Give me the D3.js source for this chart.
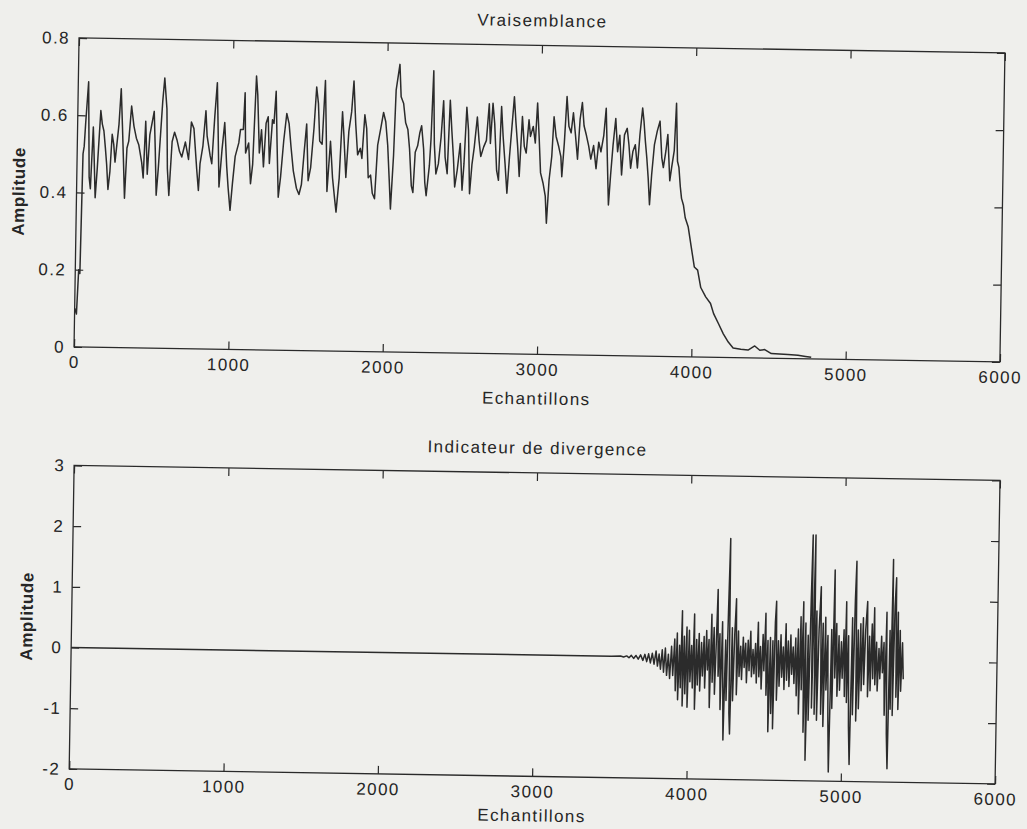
<!DOCTYPE html>
<html>
<head>
<meta charset="utf-8">
<title>Vraisemblance / Indicateur de divergence</title>
<script src="https://d3js.org/d3.v7.min.js"></script>
<style>
  body { margin: 0; background: #efefec; }
  text { font-family: "Liberation Sans", Arial, sans-serif; fill: #262626; }
</style>
</head>
<body>
<div id="chart"></div>
<script>
// values: [echantillon, amplitude]
var vraisemblance = [
  [0,0.10],[12,0.085],[22,0.20],[30,0.19],[38,0.50],[45,0.52],[52,0.58],[67,0.687],[80,0.44],[89,0.41],
  [102,0.57],[106,0.535],[121,0.387],[132,0.465],[149,0.613],[160,0.578],[171,0.56],[182,0.517],[192,0.474],[203,0.409],
  [214,0.456],[225,0.552],[236,0.526],[246,0.48],[268,0.578],[279,0.67],[290,0.578],[300,0.49],[311,0.387],[322,0.517],
  [333,0.535],[348,0.626],[365,0.574],[382,0.543],[398,0.526],[419,0.48],[430,0.44],[441,0.587],[456,0.45],[469,0.552],
  [484,0.587],[495,0.613],[506,0.509],[516,0.396],[527,0.465],[549,0.639],[560,0.70],[577,0.62],[586,0.465],[598,0.396],
  [614,0.535],[629,0.56],[646,0.539],[663,0.51],[678,0.496],[700,0.535],[722,0.49],[737,0.587],[754,0.57],[776,0.465],
  [789,0.41],[797,0.48],[814,0.526],[830,0.617],[840,0.552],[862,0.50],[873,0.48],[888,0.604],[901,0.69],[910,0.578],
  [922,0.42],[938,0.517],[953,0.587],[970,0.474],[981,0.42],[996,0.36],[1009,0.43],[1024,0.50],[1046,0.535],[1056,0.57],
  [1074,0.57],[1082,0.665],[1091,0.509],[1110,0.535],[1126,0.43],[1138,0.48],[1154,0.709],[1164,0.66],[1180,0.51],[1192,0.57],
  [1208,0.474],[1221,0.587],[1234,0.604],[1246,0.483],[1262,0.596],[1272,0.587],[1283,0.67],[1294,0.535],[1307,0.396],[1320,0.448],
  [1337,0.543],[1354,0.613],[1370,0.587],[1385,0.526],[1402,0.465],[1424,0.42],[1441,0.404],[1456,0.43],[1471,0.517],[1484,0.587],
  [1499,0.44],[1514,0.474],[1532,0.578],[1545,0.683],[1558,0.64],[1570,0.543],[1586,0.535],[1601,0.70],[1612,0.56],[1622,0.413],
  [1640,0.543],[1657,0.448],[1672,0.396],[1683,0.36],[1700,0.448],[1715,0.62],[1726,0.56],[1743,0.45],[1758,0.57],[1774,0.62],
  [1786,0.70],[1802,0.587],[1817,0.509],[1834,0.526],[1845,0.50],[1860,0.613],[1873,0.578],[1888,0.45],[1903,0.457],[1916,0.41],
  [1931,0.396],[1946,0.535],[1964,0.578],[1981,0.62],[1996,0.596],[2011,0.535],[2024,0.448],[2035,0.37],[2050,0.51],[2060,0.678],
  [2082,0.745],[2093,0.661],[2110,0.644],[2125,0.594],[2140,0.577],[2153,0.526],[2168,0.431],[2179,0.414],[2190,0.518],[2205,0.535],
  [2218,0.569],[2229,0.587],[2244,0.527],[2255,0.44],[2265,0.406],[2283,0.484],[2291,0.553],[2302,0.73],[2313,0.54],[2326,0.463],
  [2341,0.489],[2356,0.558],[2369,0.653],[2384,0.507],[2399,0.464],[2412,0.654],[2425,0.576],[2438,0.507],[2449,0.43],[2464,0.474],
  [2481,0.543],[2497,0.422],[2507,0.49],[2520,0.637],[2533,0.577],[2546,0.413],[2559,0.49],[2572,0.534],[2589,0.612],[2602,0.552],
  [2615,0.51],[2633,0.535],[2650,0.552],[2665,0.647],[2676,0.544],[2689,0.648],[2702,0.596],[2719,0.475],[2732,0.449],[2745,0.64],
  [2758,0.562],[2773,0.493],[2788,0.416],[2801,0.51],[2814,0.588],[2827,0.666],[2840,0.597],[2853,0.537],[2866,0.46],[2881,0.615],
  [2896,0.538],[2909,0.521],[2924,0.607],[2935,0.564],[2952,0.59],[2967,0.547],[2978,0.651],[2991,0.565],[3004,0.47],[3021,0.444],
  [3037,0.41],[3047,0.34],[3060,0.452],[3075,0.513],[3086,0.616],[3101,0.565],[3119,0.539],[3134,0.513],[3142,0.461],[3155,0.548],
  [3168,0.669],[3183,0.592],[3198,0.575],[3211,0.627],[3227,0.567],[3242,0.507],[3255,0.611],[3268,0.654],[3281,0.594],[3298,0.568],
  [3313,0.542],[3328,0.508],[3345,0.543],[3363,0.483],[3378,0.552],[3393,0.527],[3410,0.57],[3423,0.64],[3436,0.502],[3447,0.39],
  [3458,0.467],[3471,0.545],[3486,0.614],[3501,0.528],[3514,0.571],[3529,0.468],[3544,0.572],[3561,0.589],[3574,0.546],[3587,0.486],
  [3600,0.529],[3615,0.547],[3631,0.487],[3644,0.573],[3659,0.642],[3669,0.608],[3680,0.556],[3691,0.513],[3702,0.461],[3713,0.392],
  [3724,0.47],[3739,0.548],[3756,0.583],[3773,0.609],[3788,0.514],[3799,0.489],[3814,0.532],[3825,0.575],[3842,0.455],[3853,0.49],
  [3868,0.533],[3878,0.656],[3890,0.506],[3900,0.49],[3911,0.44],[3920,0.41],[3933,0.393],[3946,0.36],[3966,0.337],[3988,0.285],
  [4010,0.233],[4032,0.225],[4054,0.18],[4087,0.156],[4119,0.139],[4140,0.113],[4173,0.087],[4205,0.061],[4238,0.04],[4270,0.025],
  [4320,0.022],[4367,0.02],[4410,0.031],[4443,0.02],[4475,0.022],[4518,0.012],[4570,0.011],[4626,0.01],[4691,0.009],[4740,0.006],
  [4777,0.004]
];

var divergence = [
  [0,0],[3500,0],[3560,0.005],[3580,-0.01],[3600,0.01],[3615,-0.02],[3630,0.02],[3645,-0.03],[3660,0.02],[3675,-0.04],
  [3690,0.03],[3705,-0.06],[3718,0.04],[3730,-0.08],[3742,0.05],[3754,-0.1],[3766,0.06],[3778,-0.12],[3790,0.1],[3800,-0.15],
  [3810,0.05],[3820,-0.2],[3830,0.12],[3840,-0.25],[3850,0.15],[3860,-0.3],[3870,0.05],[3880,-0.35],[3890,0.18],[3900,-0.3],
  [3910,0.3],[3918,-0.55],[3926,0.4],[3934,-0.7],[3942,0.2],[3950,-0.5],[3957,0.77],[3964,-0.8],[3972,0.35],[3980,-0.6],
  [3988,0.5],[3996,-0.82],[4004,0.45],[4012,-0.4],[4020,0.2],[4028,-0.5],[4036,0.72],[4044,-0.85],[4052,0.3],[4060,-0.45],
  [4068,0.4],[4076,-0.55],[4084,0.25],[4092,-0.3],[4100,0.35],[4108,-0.5],[4116,0.45],[4124,-0.2],[4132,0.3],[4140,-0.82],
  [4148,0.72],[4156,-0.4],[4164,0.5],[4172,-0.6],[4180,0.35],[4186,1.13],[4194,-0.3],[4202,0.4],[4210,-0.85],[4218,0.6],
  [4226,-0.5],[4232,-1.35],[4240,0.3],[4248,-0.7],[4255,0.75],[4262,1.97],[4268,-0.9],[4274,-1.25],[4282,0.5],[4290,-0.7],
  [4298,0.4],[4306,0.98],[4314,-0.6],[4322,0.45],[4330,-0.3],[4338,0.2],[4346,-0.35],[4354,0.35],[4362,-0.15],[4370,0.25],
  [4378,-0.4],[4386,0.3],[4394,-0.2],[4402,0.45],[4410,-0.3],[4418,0.15],[4426,-0.25],[4434,0.25],[4442,-0.4],[4450,0.6],
  [4458,-0.3],[4466,0.2],[4474,-0.5],[4482,0.4],[4490,-0.2],[4498,0.75],[4506,-0.6],[4514,0.3],[4522,-1.2],[4530,0.35],
  [4538,-0.9],[4546,0.3],[4552,-1.15],[4560,0.6],[4566,0.95],[4574,-0.68],[4582,0.3],[4590,-0.45],[4598,0.4],[4606,-0.3],
  [4614,0.2],[4622,-0.5],[4630,0.58],[4638,-0.35],[4646,0.3],[4654,-0.45],[4662,0.4],[4670,-0.25],[4678,0.2],[4686,-0.4],
  [4694,0.35],[4702,-0.6],[4710,0.5],[4718,-0.9],[4726,0.7],[4734,-0.5],[4742,0.95],[4750,-1.2],[4758,0.6],[4766,-1.66],
  [4774,0.4],[4782,-1.0],[4790,1.0],[4796,2.05],[4802,-0.8],[4808,0.5],[4814,2.05],[4820,-0.9],[4828,0.8],[4836,-1.0],
  [4844,0.5],[4854,1.2],[4862,-0.9],[4870,0.6],[4878,-1.1],[4886,0.7],[4894,-0.5],[4902,0.4],[4910,-1.0],[4918,-1.85],
  [4926,0.5],[4934,-0.8],[4942,1.48],[4950,-0.3],[4958,0.6],[4966,-0.6],[4974,0.4],[4982,-0.5],[4990,0.3],[4998,-0.3],
  [5006,0.5],[5014,-0.6],[5020,0.96],[5028,-0.7],[5036,0.4],[5044,-1.1],[5052,-1.72],[5060,0.7],[5068,-0.9],[5076,1.0],
  [5082,1.63],[5090,-1.0],[5098,0.5],[5106,-0.8],[5114,0.6],[5122,-0.5],[5130,0.7],[5138,-0.4],[5146,0.5],[5156,0.97],
  [5164,-0.6],[5172,0.4],[5180,-0.5],[5188,0.6],[5196,-0.3],[5202,0.87],[5210,-0.4],[5218,0.3],[5226,-0.5],[5234,0.2],
  [5242,-0.3],[5250,0.4],[5258,-0.2],[5266,0.3],[5274,-0.9],[5282,0.8],[5290,-1.2],[5298,-1.78],[5304,0.5],[5312,-0.8],
  [5319,1.67],[5326,-0.9],[5334,0.9],[5341,1.37],[5348,-0.6],[5356,0.8],[5362,-0.8],[5370,0.5],[5378,-0.5],[5386,0.3],
  [5394,-0.3]
];

var xTicks = [0, 1000, 2000, 3000, 4000, 5000, 6000];
var vrTicks = [0, 0.2, 0.4, 0.6, 0.8];
var divTicks = [-2, -1, 0, 1, 2, 3];

var width = 1027, height = 829;
var ink = "#2a2a2a";

var svg = d3.select("#chart")
    .append("svg")
    .attr("width", width)
    .attr("height", height);

svg.append("rect")
    .attr("width", width)
    .attr("height", height)
    .attr("fill", "#efefec");

// the printed page sits a little crooked on the scanner
var page = svg.append("g")
    .attr("transform", "rotate(0.93,512,414)");

function panel(opt) {
    var x = d3.scaleLinear().domain([0, 6000]).range([opt.left, opt.right]);
    var y = d3.scaleLinear().domain(opt.yDomain).range([opt.bottom, opt.top]);
    var g = page.append("g");
    var tick = 8;

    // signal
    g.append("path")
        .datum(opt.data)
        .attr("fill", "none")
        .attr("stroke", "#2b2b2b")
        .attr("stroke-width", 1.5)
        .attr("stroke-linejoin", "round")
        .attr("d", d3.line().x(function(d) { return x(d[0]); }).y(function(d) { return y(d[1]); }));

    // matlab style axes, ticks pointing inward on all four sides
    g.append("g")
        .attr("transform", "translate(0," + opt.bottom + ")")
        .call(d3.axisBottom(x).tickValues(xTicks).tickSizeInner(-tick).tickSizeOuter(0)
            .tickPadding(9).tickFormat(function(d) { return String(d); }));
    g.append("g")
        .attr("transform", "translate(0," + opt.top + ")")
        .call(d3.axisTop(x).tickValues(xTicks).tickSizeInner(-tick).tickSizeOuter(0).tickFormat(""));
    g.append("g")
        .attr("transform", "translate(" + opt.left + ",0)")
        .call(d3.axisLeft(y).tickValues(opt.ticks).tickSizeInner(-tick).tickSizeOuter(0)
            .tickPadding(9).tickFormat(function(d) { return String(d); }));
    g.append("g")
        .attr("transform", "translate(" + opt.right + ",0)")
        .call(d3.axisRight(y).tickValues(opt.ticks).tickSizeInner(-tick).tickSizeOuter(0).tickFormat(""));

    g.selectAll(".domain").remove();
    g.selectAll(".tick line").attr("stroke", ink).attr("stroke-width", 1.2);
    g.selectAll(".tick text")
        .attr("font-size", 17)
        .style("letter-spacing", "1.4px");

    // box
    g.append("rect")
        .attr("x", opt.left)
        .attr("y", opt.top)
        .attr("width", opt.right - opt.left)
        .attr("height", opt.bottom - opt.top)
        .attr("fill", "none")
        .attr("stroke", ink)
        .attr("stroke-width", 1.3);

    // title and axis labels
    g.append("text")
        .attr("x", (opt.left + opt.right) / 2)
        .attr("y", opt.top - 19)
        .attr("text-anchor", "middle")
        .attr("font-size", 17)
        .style("letter-spacing", "1.4px")
        .text(opt.title);
    g.append("text")
        .attr("x", (opt.left + opt.right) / 2)
        .attr("y", opt.bottom + opt.xlabelGap)
        .attr("text-anchor", "middle")
        .attr("font-size", 17)
        .style("letter-spacing", "1.4px")
        .text("Echantillons");
    g.append("text")
        .attr("transform", "translate(" + opt.ylabelX + "," + (opt.top + opt.bottom) / 2 + ") rotate(-90)")
        .attr("text-anchor", "middle")
        .attr("font-size", 17)
        .attr("font-weight", "bold")
        .style("letter-spacing", "0.6px")
        .text("Amplitude");
}

panel({
    data: vraisemblance,
    title: "Vraisemblance",
    yDomain: [0, 0.8],
    ticks: vrTicks,
    left: 73, right: 999, top: 45, bottom: 354,
    ylabelX: 21, xlabelGap: 50
});

panel({
    data: divergence,
    title: "Indicateur de divergence",
    yDomain: [-2, 3],
    ticks: divTicks,
    left: 75, right: 1001, top: 472.5, bottom: 776,
    ylabelX: 36, xlabelGap: 45
});
</script>
</body>
</html>
